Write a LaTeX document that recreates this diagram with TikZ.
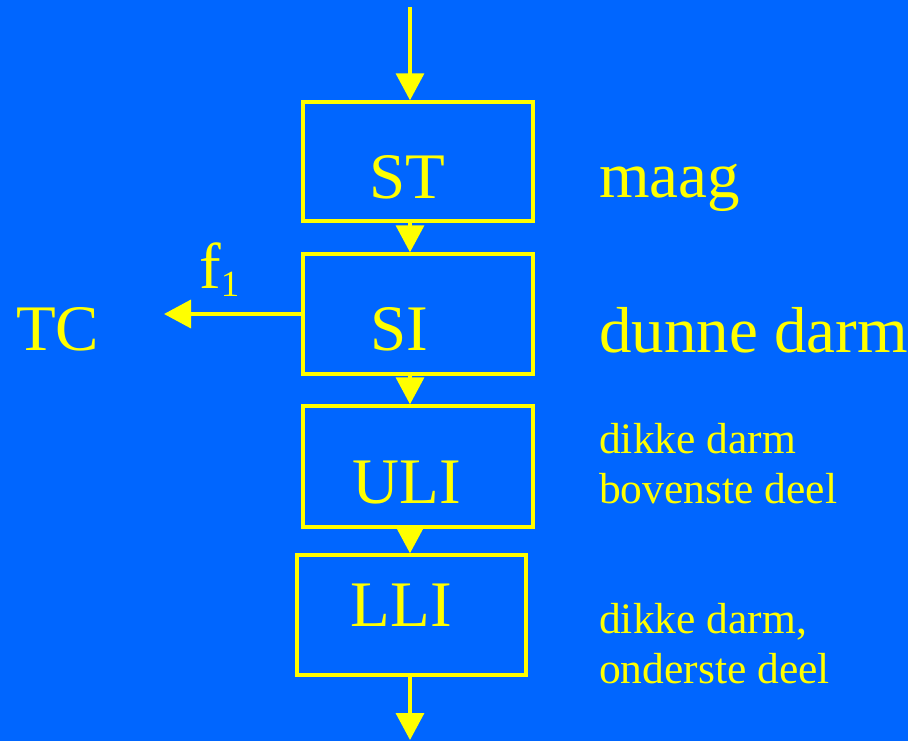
\documentclass[tikz,border=0pt]{standalone}
\usepackage{fontspec}
\setmainfont{Liberation Serif}
\usetikzlibrary{arrows.meta}
\definecolor{bg}{RGB}{0,102,255}
\definecolor{yel}{RGB}{255,255,0}
\begin{document}
\begin{tikzpicture}[x=1pt,y=-1pt,
  box/.style={draw=yel,line width=3.4pt,inner sep=0pt,rectangle},
  big/.style={text=yel,inner sep=0pt,font=\fontsize{65}{65}\selectfont},
  small/.style={text=yel,inner sep=0pt,anchor=base west,font=\fontsize{43.5}{50}\selectfont},
  arr/.style={draw=yel,line width=3.5pt,-{Triangle[length=27pt,width=28pt]}}]
\fill[bg] (0,0) rectangle (908,741);
\useasboundingbox (0,0) rectangle (908,741);
% boxes
\node[box,minimum width=230pt,minimum height=119pt] (ST) at (418,161.5) {};
\node[box,minimum width=230pt,minimum height=120pt] (SI) at (418,314) {};
\node[box,minimum width=230pt,minimum height=121pt] (ULI) at (418,466.5) {};
\node[box,minimum width=229pt,minimum height=120pt] (LLI) at (411.5,615) {};
% box texts
\node[big,anchor=base] (tST) at (407.5,199) {ST};
\node[big,anchor=base] (tSI) at (399,350) {SI};
\node[big,anchor=base] (tULI) at (406.5,503) {ULI};
\node[big,anchor=base] (tLLI) at (401.5,626) {LLI};
% connectors
\coordinate (in) at (410,7);
\coordinate (out) at (410,740);
\coordinate (tcend) at (164,315);
\draw[arr] (in) -- (in |- ST.north);
\draw[arr] (in |- ST.south) -- (in |- SI.north);
\draw[arr] (in |- SI.south) -- (in |- ULI.north);
\draw[arr] (in |- ULI.south) -- (in |- LLI.north);
\draw[arr] (in |- LLI.south) -- (out);
\draw[arr] (SI.west) -- (SI.west -| tcend);
% side labels
\node[big,anchor=base west] (TC) at (16,350) {TC};
\node[big,anchor=base west] (f1) at (199,288) {f\raisebox{-8pt}{\fontsize{37}{37}\selectfont 1}};
\node[big,anchor=base west] (maag) at (599,197) {maag};
\node[big,anchor=base west] (dunne) at (599,352) {dunne darm};
\node[small] (d1) at (599,453) {dikke darm};
\node[small] (d2) at (599,503) {bovenste deel};
\node[small] (d3) at (599,633) {dikke darm,};
\node[small] (d4) at (599,683) {onderste deel};
\end{tikzpicture}
\end{document}
